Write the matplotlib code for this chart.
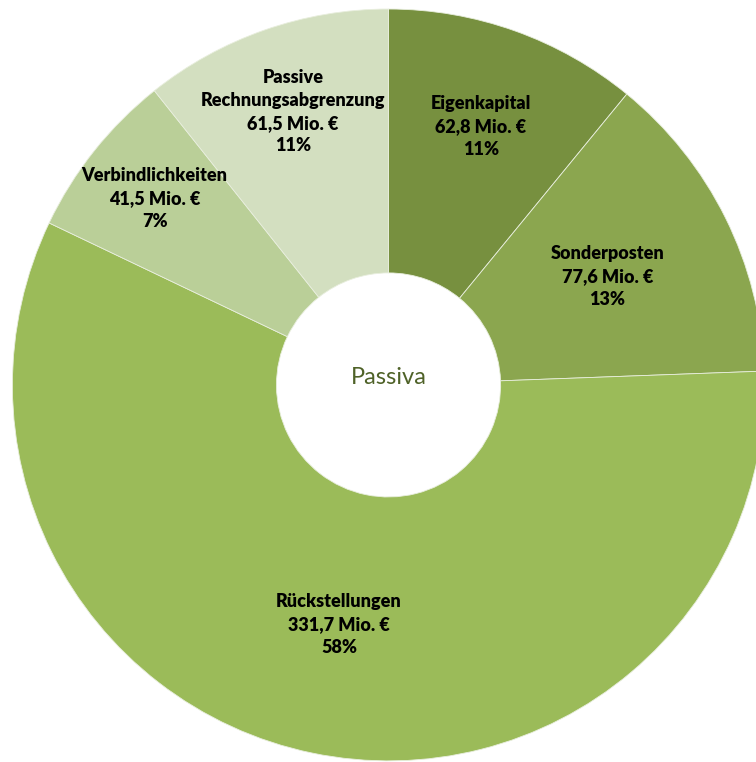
import numpy as np
import matplotlib
matplotlib.use("Agg")
import matplotlib.pyplot as plt

# Passiva-Daten (Mio. €)
kategorien = ["Eigenkapital", "Sonderposten", "Rückstellungen",
              "Verbindlichkeiten", "Passive\nRechnungsabgrenzung"]
werte = [62.8, 77.6, 331.7, 41.5, 61.5]
farben = ["#77903F", "#8BA64F", "#9BBB59", "#BACF98", "#D3DFC0"]

plt.rcParams['font.family'] = ['Lato', 'DejaVu Sans']

fig = plt.figure(figsize=(7.56, 7.62), dpi=100)
ax = fig.add_axes([0, 0, 1, 1])

wedges, _ = ax.pie(werte, colors=farben, startangle=90, counterclock=False,
                   radius=1.0, wedgeprops=dict(width=0.702, edgecolor="#E8EEDD", linewidth=0.6))

# Beschriftungen (Abstand vom Mittelpunkt je Segment)
label_r = [0.73, 0.65, 0.65, 0.795, 0.77]
gesamt = sum(werte)
for w, name, val, r in zip(wedges, kategorien, werte, label_r):
    mid = np.deg2rad((w.theta1 + w.theta2) / 2)
    txt = "%s\n%s Mio. €\n%d%%" % (name, ("%.1f" % val).replace(".", ","), round(val / gesamt * 100))
    ax.text(r * np.cos(mid), r * np.sin(mid), txt, ha="center", va="center",
            fontsize=13, fontweight="heavy", color="black", linespacing=1.42)

ax.text(0, 0.02, "Passiva", ha="center", va="center", fontsize=17, color="#4F6228")

ax.set_aspect("auto")
ax.set_xlim(-1.033, 0.977)
ax.set_ylim(-1.003, 1.024)
ax.axis("off")

fig.savefig("out.png", dpi=100, facecolor="white")
